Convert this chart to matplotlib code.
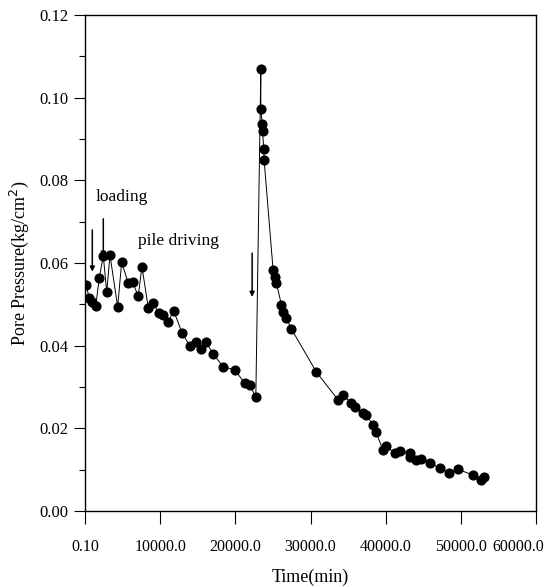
import numpy as np
import matplotlib
matplotlib.use('Agg')
import matplotlib.pyplot as plt
import matplotlib.transforms as mtransforms
from matplotlib.ticker import MultipleLocator

# %% Data

time_min = [133, 571, 890, 1422, 1900, 2432, 2884, 3322, 4345, 4877,
            5754, 6339, 7083, 7575, 8412, 9076, 9834, 10405, 11070, 11787,
            12930, 13953, 14751, 15415, 16040, 17050, 18379, 19934, 21262, 21927,
            22724, 23389, 23389, 23562, 23615, 23787, 23827, 25023, 25249, 25475,
            26140, 26352, 26804, 27468, 30790, 33661, 34325, 35441, 35880, 36983,
            37435, 38312, 38671, 39641, 40093, 41196, 41860, 43189, 43189, 44080,
            44745, 45941, 47177, 48413, 49609, 51602, 52718, 53024]
pore_pressure = [0.0547, 0.0515, 0.0506, 0.0496, 0.0564, 0.0618, 0.0529, 0.0619, 0.0494, 0.0602,
                 0.0551, 0.0553, 0.0520, 0.0591, 0.0492, 0.0504, 0.0478, 0.0473, 0.0457, 0.0485,
                 0.0430, 0.0399, 0.0408, 0.0392, 0.0410, 0.0380, 0.0349, 0.0341, 0.0309, 0.0305,
                 0.0275, 0.1069, 0.0972, 0.0936, 0.0920, 0.0875, 0.0849, 0.0583, 0.0567, 0.0551,
                 0.0498, 0.0482, 0.0466, 0.0440, 0.0336, 0.0269, 0.0281, 0.0261, 0.0252, 0.0236,
                 0.0232, 0.0208, 0.0192, 0.0148, 0.0157, 0.0140, 0.0145, 0.0141, 0.0130, 0.0123,
                 0.0126, 0.0117, 0.0103, 0.0093, 0.0101, 0.0087, 0.0075, 0.0083]

x_ticks = [0, 10000, 20000, 30000, 40000, 50000, 60000]
x_ticklabels = ['0.10', '10000.0', '20000.0', '30000.0', '40000.0', '50000.0', '60000.0']
y_ticks = [0.00, 0.02, 0.04, 0.06, 0.08, 0.10, 0.12]

# arrows: (time, y_start, y_end)
arrows = [(970, 0.0680, 0.0579), (2432, 0.0707, 0.0615), (22233, 0.0624, 0.0518)]

# %% Plot

plt.rcParams['font.family'] = ['Liberation Serif', 'DejaVu Serif']

fig = plt.figure(figsize=(5.46, 5.87), dpi=100)
ax = fig.add_axes([0.1557, 0.1295, 0.8260, 0.8449])

ax.plot(time_min, pore_pressure, color='black', lw=0.7, marker='o',
        markersize=6.3, markerfacecolor='black', markeredgecolor='black')

for t, y0, y1 in arrows:
    ax.annotate('', xy=(t, y1), xytext=(t, y0),
                arrowprops=dict(arrowstyle='-|>', color='black', lw=1.1,
                                mutation_scale=7, shrinkA=0, shrinkB=0))

ax.text(1462, 0.0760, 'loading', fontsize=12.5, va='center', ha='left')
ax.text(7043, 0.0653, 'pile driving', fontsize=12.5, va='center', ha='left')

ax.set_xlim(0, 60000)
ax.set_ylim(0, 0.12)
ax.set_xticks(x_ticks)
ax.set_xticklabels(x_ticklabels, fontsize=11.5)
ax.set_yticks(y_ticks)
ax.set_yticklabels(['%.2f' % v for v in y_ticks], fontsize=12)
ax.yaxis.set_minor_locator(MultipleLocator(0.01))

ax.tick_params(axis='x', which='major', direction='out', length=9, width=0.8, pad=11)
ax.tick_params(axis='y', which='major', direction='out', length=8, width=0.8, pad=4)
ax.tick_params(axis='y', which='minor', direction='out', length=4, width=0.8)
for s in ax.spines.values():
    s.set_linewidth(1.0)

# keep the last tick label inside the figure, as in the original
last = ax.get_xticklabels()[-1]
last.set_transform(last.get_transform() + mtransforms.ScaledTranslation(-18 / 100, 0, fig.dpi_scale_trans))

ax.set_xlabel('Time(min)', fontsize=13, labelpad=10)
ax.set_ylabel('Pore Pressure(kg/cm$^2$)', fontsize=13, labelpad=6)

fig.savefig('out.png', dpi=100)
